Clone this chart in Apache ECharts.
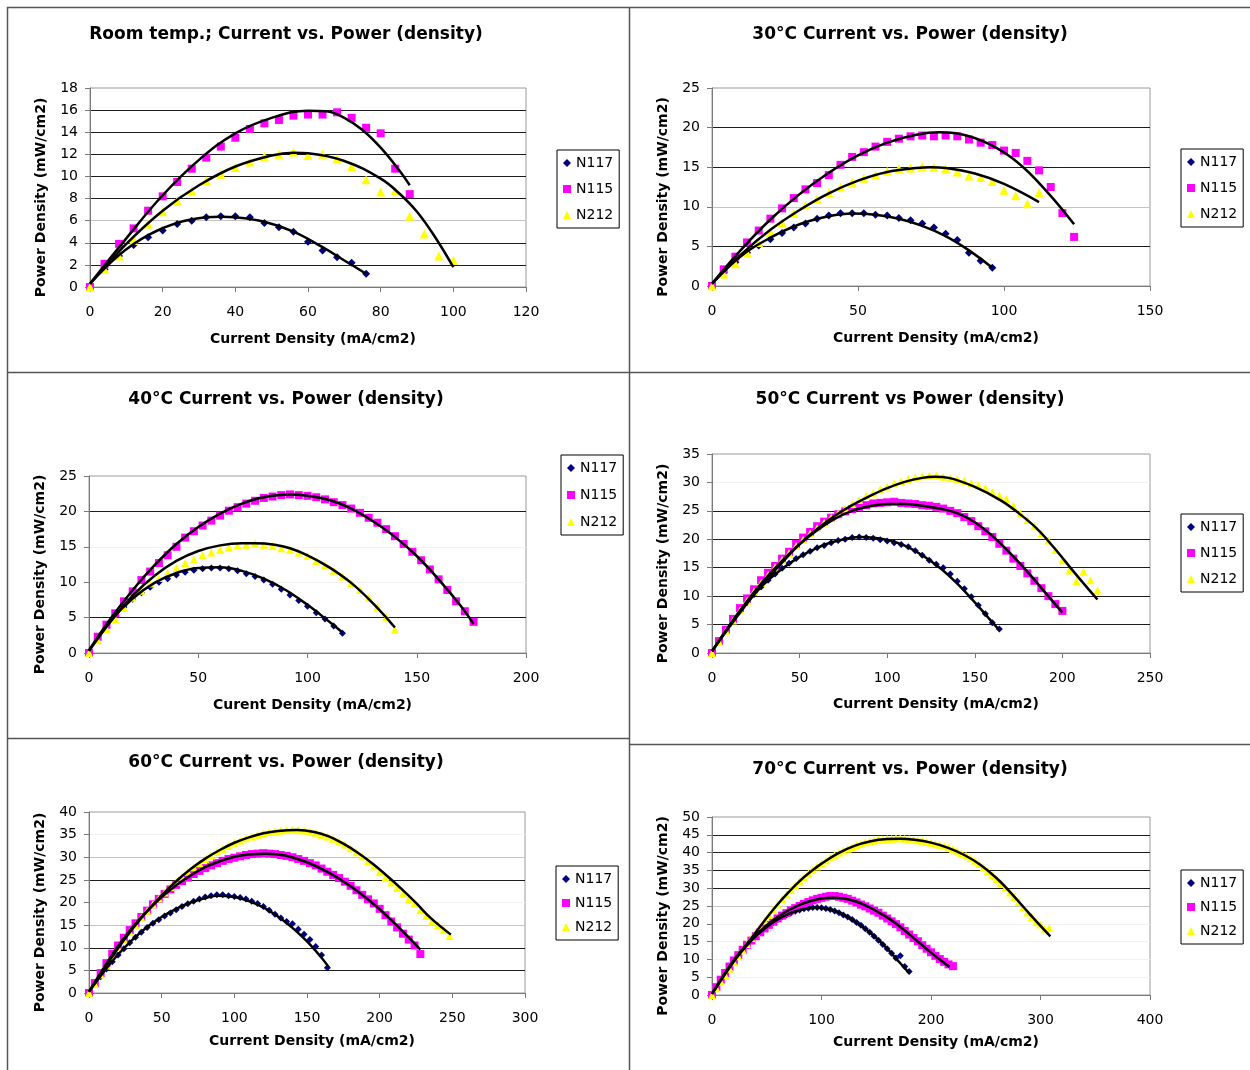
<!DOCTYPE html>
<html><head><meta charset="utf-8">
<script src="https://cdn.jsdelivr.net/npm/echarts@6.0.0/dist/echarts.min.js"></script>
<style>html,body{margin:0;padding:0;background:#fff}#c{width:1250px;height:1070px}</style>
</head><body><div id="c"></div><script>
// ---------- DATA ----------
const seriesNames = ['N117', 'N115', 'N212'];
const panelTitles = ['Room temp.; Current vs. Power (density)', '30°C Current vs. Power (density)', '40°C Current vs. Power (density)', '50°C Current vs Power (density)', '60°C Current vs. Power (density)', '70°C Current vs. Power (density)'];
const xAxisNames = ['Current Density (mA/cm2)', 'Current Density (mA/cm2)', 'Curent Density (mA/cm2)', 'Current Density (mA/cm2)', 'Current Density (mA/cm2)', 'Current Density (mA/cm2)'];
const yAxisName = 'Power Density (mW/cm2)';
const xMaxes = [120, 150, 200, 250, 300, 400];
const xSteps = [20, 50, 50, 50, 50, 100];
const yMaxes = [18, 25, 25, 35, 40, 50];
const ySteps = [2, 5, 5, 5, 5, 5];

// Room temperature
const rt_x117 = [0,4,8,12,16,20,24,28,32,36,40,44,48,52,56,60,64,68,72,76];
const rt_y117 = [0,1.6,2.8,3.8,4.5,5.1,5.7,6.0,6.3,6.4,6.4,6.3,5.8,5.4,5.0,4.1,3.3,2.7,2.2,1.2];
const rt_x115 = [0,4,8,12,16,20,24,28,32,36,40,44,48,52,56,60,64,68,72,76,80,84,88];
const rt_y115 = [0,2.1,3.9,5.3,6.9,8.2,9.5,10.7,11.7,12.7,13.5,14.3,14.8,15.1,15.5,15.6,15.6,15.8,15.3,14.4,13.9,10.7,8.4];
const rt_x212 = [0,4,8,12,16,20,24,28,32,36,40,44,48,52,56,60,64,68,72,76,80,84,88,92,96,100];
const rt_y212 = [0,1.6,2.8,4.2,5.7,6.8,7.8,8.7,9.6,10.2,10.8,11.3,11.8,12.0,12.2,11.9,12.0,11.6,10.9,9.7,8.6,8.7,6.4,4.8,2.8,2.4];
const rt_tx117 = [0,8,16,24,32,36,40,48,56,64,70,76];
const rt_ty117 = [0.3,2.9,4.7,5.8,6.3,6.35,6.3,5.9,5.0,3.6,2.4,1.2];
const rt_tx115 = [0,10,20,30,40,50,60,65,70,75,80,85,88];
const rt_ty115 = [0.3,4.4,8.3,11.5,13.9,15.3,15.95,15.9,15.3,14.2,12.6,10.6,9.2];
const rt_tx212 = [0,10,20,30,40,50,56,60,70,80,85,90,95,100];
const rt_ty212 = [0.3,3.9,6.9,9.2,10.9,11.9,12.15,12.1,11.4,9.8,8.5,6.8,4.5,1.8];

// 30 C
const t30_x117 = [0,4,8,12,16,20,24,28,32,36,40,44,48,52,56,60,64,68,72,76,80,84,88,92,96];
const t30_y117 = [0,1.7,3.0,4.2,5.1,5.9,6.7,7.4,7.9,8.5,8.9,9.2,9.2,9.2,9.0,8.9,8.6,8.3,7.9,7.4,6.6,5.8,4.2,3.2,2.3];
const t30_x115 = [0,4,8,12,16,20,24,28,32,36,40,44,48,52,56,60,64,68,72,76,80,84,88,92,96,100,104,108,112,116,120,124];
const t30_y115 = [0,2.1,3.7,5.5,7.0,8.5,9.8,11.1,12.2,13.0,14.0,15.3,16.3,16.9,17.6,18.2,18.6,18.9,19.0,18.9,19.0,18.9,18.5,18.1,17.8,17.1,16.8,15.8,14.6,12.5,9.2,6.2];
const t30_x212 = [0,4,8,12,16,20,24,28,32,36,40,44,48,52,56,60,64,68,72,76,80,84,88,92,96,100,104,108,112];
const t30_y212 = [0,1.5,2.8,4.2,5.5,6.8,8.0,9.2,10.2,11.0,11.8,12.5,13.1,13.6,14.0,14.5,14.8,14.9,15.1,15.0,14.8,14.4,13.9,13.7,13.2,12.1,11.4,10.4,11.8];
const t30_tx117 = [0,10,20,30,40,48,56,64,72,80,88,96];
const t30_ty117 = [0.3,3.8,6.1,7.8,8.8,9.15,9.0,8.5,7.6,6.3,4.5,2.3];
const t30_tx115 = [0,10,20,30,40,50,60,70,78,85,95,105,115,124];
const t30_ty115 = [0.3,4.6,8.4,11.6,14.3,16.5,18.1,19.1,19.4,19.2,17.9,15.5,11.8,7.8];
const t30_tx212 = [0,10,20,30,40,50,60,70,75,80,90,100,112];
const t30_ty212 = [0.3,4.0,7.1,9.6,11.7,13.3,14.4,14.9,15.0,14.9,14.2,12.9,10.6];

// 40 C
const t40_x117 = [0,4,8,12,16,20,24,28,32,36,40,44,48,52,56,60,64,68,72,76,80,84,88,92,96,100,104,108,112,116];
const t40_y117 = [0,2.0,3.7,5.2,6.5,7.6,8.5,9.3,10.0,10.5,11.0,11.4,11.7,11.9,12.0,12.0,11.9,11.6,11.2,10.8,10.3,9.7,9.0,8.2,7.4,6.6,5.7,4.8,3.8,2.8];
const t40_x115 = [0,4,8,12,16,20,24,28,32,36,40,44,48,52,56,60,64,68,72,76,80,84,88,92,96,100,104,108,112,116,120,124,128,132,136,140,144,148,152,156,160,164,168,172,176];
const t40_y115 = [0,2.3,4.0,5.6,7.3,8.7,10.3,11.5,12.7,13.8,15.0,16.3,17.2,18.0,18.7,19.4,20.1,20.6,21.1,21.5,21.9,22.1,22.3,22.4,22.3,22.2,22.0,21.7,21.3,20.9,20.4,19.8,19.1,18.4,17.5,16.5,15.4,14.3,13.1,11.8,10.4,8.9,7.3,5.9,4.4];
const t40_x212 = [0,4,8,12,16,20,24,28,32,36,40,44,48,52,56,60,64,68,72,76,80,84,88,92,96,100,104,108,112,116,120,124,128,132,136,140];
const t40_y212 = [0,1.8,3.4,4.8,6.4,7.8,8.8,9.8,10.6,11.3,12.0,12.7,13.2,13.8,14.2,14.6,14.9,15.2,15.3,15.5,15.3,15.1,14.8,14.6,14.2,13.7,13.0,12.4,11.6,10.8,9.9,8.9,7.8,6.5,5.1,3.3];
const t40_tx117 = [0,10,20,30,40,50,60,70,80,90,100,110,116];
const t40_ty117 = [0.3,4.6,7.7,9.9,11.3,12.0,12.1,11.6,10.5,8.9,6.8,4.4,2.9];
const t40_tx115 = [0,10,20,30,40,50,60,70,80,92,100,110,120,130,140,150,160,170,176];
const t40_ty115 = [0.4,4.9,8.9,12.4,15.4,17.8,19.7,21.1,22.0,22.4,22.2,21.6,20.4,18.6,16.4,13.7,10.4,6.7,4.1];
const t40_tx212 = [0,10,20,30,40,50,60,70,76,85,92,100,110,120,130,140];
const t40_ty212 = [0.3,4.5,8.1,10.9,13.0,14.4,15.2,15.5,15.5,15.3,14.8,13.8,12.1,9.9,7.0,3.6];

// 50 C
const t50_x117 = [0,4,8,12,16,20,24,28,32,36,40,44,48,52,56,60,64,68,72,76,80,84,88,92,96,100,104,108,112,116,120,124,128,132,136,140,144,148,152,156,160,164];
const t50_y117 = [0,2.0,3.9,5.7,7.4,8.9,10.3,11.6,12.8,13.9,14.9,15.8,16.6,17.3,17.9,18.5,18.9,19.4,19.8,20.0,20.3,20.4,20.3,20.2,19.9,19.7,19.4,19.1,18.7,18.0,17.2,16.3,15.6,15.0,13.9,12.6,11.3,9.9,8.4,6.9,5.3,4.2];
const t50_x115 = [0,4,8,12,16,20,24,28,32,36,40,44,48,52,56,60,64,68,72,76,80,84,88,92,96,100,104,108,112,116,120,124,128,132,136,140,144,148,152,156,160,164,168,172,176,180,184,188,192,196,200];
const t50_y115 = [0,2.1,4.1,6.0,7.9,9.6,11.2,12.8,14.1,15.3,16.6,17.8,19.2,20.3,21.3,22.3,23.1,23.8,24.4,24.9,25.3,25.7,26.0,26.3,26.4,26.5,26.6,26.4,26.3,26.2,26.0,25.9,25.7,25.4,25.0,24.6,23.9,23.2,22.3,21.4,20.4,19.2,18.0,16.6,15.3,14.0,12.7,11.4,10.0,8.6,7.4];
const t50_x212 = [0,4,8,12,16,20,24,28,32,36,40,44,48,52,56,60,64,68,72,76,80,84,88,92,96,100,104,108,112,116,120,124,128,132,136,140,144,148,152,156,160,164,168,172,176,180,184,188,192,196,200,204,208,212,216,220];
const t50_y212 = [0,2.0,3.9,5.7,7.5,9.2,10.8,12.3,13.7,15.1,16.4,17.6,18.8,19.9,21.0,22.0,22.9,23.8,24.6,25.4,26.2,26.9,27.6,28.2,28.8,29.3,29.8,30.2,30.6,30.9,31.1,31.2,31.2,31.0,30.8,30.6,30.3,29.9,29.5,29.0,28.3,27.7,27.1,25.9,24.6,23.4,22.3,21.0,19.8,18.1,16.3,14.5,12.6,14.3,12.8,11.0];
const t50_tx117 = [0,10,20,30,40,50,60,70,85,100,110,120,130,140,150,158,164];
const t50_ty117 = [0.3,4.8,8.9,12.2,14.8,16.9,18.5,19.6,20.4,19.9,18.9,17.2,15.0,12.2,8.9,6.1,4.0];
const t50_tx115 = [0,10,20,30,40,50,60,70,80,90,100,110,120,130,140,150,160,170,180,190,200];
const t50_ty115 = [0.3,4.6,8.7,12.5,15.9,19.1,21.6,23.6,25.0,25.8,26.2,26.2,25.9,25.4,24.6,23.0,20.6,17.6,14.3,10.7,7.1];
const t50_tx212 = [0,10,20,30,40,50,60,70,80,90,100,110,120,127,135,150,165,175,185,195,207,220];
const t50_ty212 = [0.3,4.9,9.1,12.9,16.2,19.2,21.8,24.1,26.0,27.6,29.0,30.1,30.8,31.0,30.8,29.2,26.8,24.6,22.0,18.6,14.1,9.4];

// 60 C
const t60_x117 = [0,4,8,12,16,20,24,28,32,36,40,44,48,52,56,60,64,68,72,76,80,84,88,92,96,100,104,108,112,116,120,124,128,132,136,140,144,148,152,156,160,164];
const t60_y117 = [0,1.8,3.6,5.3,6.9,8.4,9.8,11.1,12.3,13.4,14.5,15.4,16.2,17.0,17.7,18.4,19.1,19.7,20.3,20.8,21.2,21.5,21.7,21.7,21.5,21.3,21.1,20.8,20.3,19.8,19.1,18.3,17.4,16.6,15.8,15.3,14.1,13.0,11.8,10.3,8.4,5.6];
const t60_x115 = [0,4,8,12,16,20,24,28,32,36,40,44,48,52,56,60,64,68,72,76,80,84,88,92,96,100,104,108,112,116,120,124,128,132,136,140,144,148,152,156,160,164,168,172,176,180,184,188,192,196,200,204,208,212,216,220,224,228];
const t60_y115 = [0,2.2,4.4,6.6,8.7,10.5,12.2,13.9,15.4,16.8,18.2,19.6,20.8,21.9,22.9,23.9,24.7,25.5,26.3,27.0,27.6,28.2,28.7,29.2,29.6,29.9,30.2,30.5,30.7,30.8,30.9,30.8,30.7,30.5,30.3,30.0,29.6,29.2,28.7,28.2,27.5,26.8,26.1,25.4,24.6,23.7,22.7,21.7,20.7,19.8,18.6,17.2,15.8,14.5,13.1,11.8,10.5,8.6];
const t60_x212 = [0,4,8,12,16,20,24,28,32,36,40,44,48,52,56,60,64,68,72,76,80,84,88,92,96,100,104,108,112,116,120,124,128,132,136,140,144,148,152,156,160,164,168,172,176,180,184,188,192,196,200,204,208,212,216,220,224,228,232,236,240,244,248];
const t60_y212 = [0,2.0,4.1,6.1,8.1,10.0,11.8,13.5,15.1,16.7,18.2,19.6,20.9,22.2,23.4,24.6,25.7,26.8,27.8,28.7,29.6,30.4,31.2,31.9,32.5,33.2,33.7,34.2,34.6,35.0,35.3,35.6,35.8,35.9,36.0,36.1,36.0,35.9,35.7,35.4,35.0,34.6,34.1,33.5,32.8,32.0,31.1,30.2,29.1,28.0,26.8,25.6,24.4,23.2,22.0,20.8,19.8,18.3,17.0,15.8,15.0,14.0,12.6];
const t60_tx117 = [0,10,20,30,40,50,60,70,80,88,100,110,120,130,140,150,160,165];
const t60_ty117 = [0.3,4.6,8.5,11.8,14.6,16.8,18.6,20.0,21.0,21.5,21.2,20.3,18.9,16.9,14.4,11.4,7.8,5.7];
const t60_tx115 = [0,10,20,30,40,50,60,70,80,90,100,110,122,135,150,165,180,195,210,220,228];
const t60_ty115 = [0.3,5.5,10.4,14.6,18.1,21.2,23.8,26.0,27.8,29.1,30.1,30.6,30.8,30.4,28.9,26.6,23.6,19.9,15.5,12.3,9.6];
const t60_tx212 = [0,10,20,30,40,50,60,70,80,90,100,110,120,130,143,155,165,175,185,195,205,215,225,235,249];
const t60_ty212 = [0.3,5.2,9.9,14.2,18.1,21.6,24.7,27.4,29.7,31.6,33.2,34.4,35.3,35.8,36.0,35.6,34.6,33.0,31.0,28.6,25.9,23.0,19.9,16.6,12.9];

// 70 C
const t70_x117 = [0,4,8,12,16,20,24,28,32,36,40,44,48,52,56,60,64,68,72,76,80,84,88,92,96,100,104,108,112,116,120,124,128,132,136,140,144,148,152,156,160,164,168,172,176,180];
const t70_y117 = [0,2.1,4.2,6.1,7.9,9.6,11.2,12.7,14.1,15.4,16.6,17.7,18.7,19.6,20.4,21.2,21.9,22.5,23.0,23.5,23.9,24.2,24.4,24.6,24.6,24.5,24.3,24.0,23.6,23.1,22.5,21.9,21.2,20.4,19.6,18.6,17.6,16.5,15.4,14.2,13.0,11.7,10.4,11.0,8.0,6.6];
const t70_x115 = [0,4,8,12,16,20,24,28,32,36,40,44,48,52,56,60,64,68,72,76,80,84,88,92,96,100,104,108,112,116,120,124,128,132,136,140,144,148,152,156,160,164,168,172,176,180,184,188,192,196,200,204,208,212,216,220];
const t70_y115 = [0,2.2,4.3,6.2,8.0,9.7,11.2,12.7,14.1,15.3,16.5,17.6,18.7,19.7,20.6,21.5,22.3,23.0,23.8,24.4,25.0,25.6,26.1,26.6,27.0,27.3,27.6,27.8,27.8,27.6,27.3,27.0,26.5,26.0,25.4,24.9,24.3,23.7,23.1,22.3,21.5,20.7,19.9,19.0,18.0,17.0,16.0,15.1,14.0,13.0,12.0,11.0,10.1,9.3,8.6,8.1];
const t70_x212 = [0,4,8,12,16,20,24,28,32,36,40,44,48,52,56,60,64,68,72,76,80,84,88,92,96,100,104,108,112,116,120,124,128,132,136,140,144,148,152,156,160,164,168,172,176,180,184,188,192,196,200,204,208,212,216,220,224,228,232,236,240,244,248,252,256,260,264,268,272,276,280,284,288,292,296,300,304,308];
const t70_y212 = [0,1.9,3.8,5.6,7.4,9.2,10.9,12.6,14.3,16.0,17.6,19.3,20.9,22.5,24.0,25.5,26.9,28.2,29.5,30.8,32.0,33.1,34.2,35.2,36.1,37.0,37.8,38.6,39.3,40.0,40.6,41.1,41.6,42.1,42.5,42.9,43.2,43.4,43.6,43.7,43.8,43.9,44.0,44.0,43.9,43.8,43.7,43.5,43.3,43.0,42.8,42.5,42.2,41.9,41.5,41.0,40.5,39.9,39.2,38.5,37.7,36.8,35.8,34.8,33.7,32.6,31.4,30.1,28.8,27.5,26.1,24.6,23.2,21.9,20.6,19.8,18.6,18.9];
const t70_tx117 = [0,10,20,30,40,50,60,70,80,95,110,120,130,140,150,160,170,180];
const t70_ty117 = [0.3,5.1,9.5,13.3,16.5,19.1,21.2,22.8,23.9,24.6,23.9,22.6,20.8,18.6,16.0,13.0,9.6,6.2];
const t70_tx115 = [0,10,20,30,40,50,60,70,80,90,100,110,120,130,140,150,160,170,180,190,200,210,217];
const t70_ty115 = [0.3,5.3,9.8,13.6,16.8,19.6,21.9,23.8,25.3,26.4,27.1,27.3,27.1,26.4,25.2,23.6,21.8,19.6,17.1,14.5,11.9,9.5,7.9];
const t70_tx212 = [0,10,20,30,40,50,60,70,80,90,100,115,130,145,160,172,185,200,215,230,245,260,275,290,300,309];
const t70_ty212 = [0.3,5.0,9.5,13.6,17.6,21.7,25.5,28.9,32.0,34.6,36.9,39.8,41.9,43.2,43.8,43.9,43.6,42.8,41.4,39.4,36.6,32.8,28.0,22.8,19.4,16.5];

// ---------- grouping (references only) ----------
const panelPoints = [
  [[rt_x117, rt_y117], [rt_x115, rt_y115], [rt_x212, rt_y212]],
  [[t30_x117, t30_y117], [t30_x115, t30_y115], [t30_x212, t30_y212]],
  [[t40_x117, t40_y117], [t40_x115, t40_y115], [t40_x212, t40_y212]],
  [[t50_x117, t50_y117], [t50_x115, t50_y115], [t50_x212, t50_y212]],
  [[t60_x117, t60_y117], [t60_x115, t60_y115], [t60_x212, t60_y212]],
  [[t70_x117, t70_y117], [t70_x115, t70_y115], [t70_x212, t70_y212]]
];
const panelTrends = [
  [[rt_tx117, rt_ty117], [rt_tx115, rt_ty115], [rt_tx212, rt_ty212]],
  [[t30_tx117, t30_ty117], [t30_tx115, t30_ty115], [t30_tx212, t30_ty212]],
  [[t40_tx117, t40_ty117], [t40_tx115, t40_ty115], [t40_tx212, t40_ty212]],
  [[t50_tx117, t50_ty117], [t50_tx115, t50_ty115], [t50_tx212, t50_ty212]],
  [[t60_tx117, t60_ty117], [t60_tx115, t60_ty115], [t60_tx212, t60_ty212]],
  [[t70_tx117, t70_ty117], [t70_tx115, t70_ty115], [t70_tx212, t70_ty212]]
];

// ---------- LAYOUT & STYLE ----------
const FONT = 'DejaVu Sans';
const grids = [
  {left: 90, top: 88, width: 436, height: 199},
  {left: 712, top: 88, width: 438, height: 198},
  {left: 89, top: 476, width: 437, height: 177},
  {left: 712, top: 454, width: 438, height: 199},
  {left: 89, top: 812, width: 436, height: 181},
  {left: 712, top: 817, width: 438, height: 178}
];
const legendPos = [
  {left: 557, top: 150, gap: 10},
  {left: 1181, top: 149, gap: 10},
  {left: 561, top: 455, gap: 11},
  {left: 1181, top: 514, gap: 10},
  {left: 556, top: 866, gap: 8},
  {left: 1181, top: 870, gap: 8}
];
const titlePos = [[286, 35], [910, 35], [286, 400], [910, 400], [286, 763], [910, 770]];
const xNameGap = [45, 45, 45, 44, 41, 40];
const A = '#808080', D = '#1c1c1c', L = '#c4c4c4', N = '#f2f2f2';
const gridLineColors = [
  [A, D, D, L, D, D, D, D, D, A],
  [A, D, L, D, D, A],
  [A, D, N, N, D, A],
  [A, D, D, D, D, D, N, A],
  [A, D, D, L, N, D, L, N, A],
  [A, N, N, N, N, L, D, D, D, D, A]
];
const symbols = ['diamond', 'rect', 'triangle'];
const colors = ['#000080', '#ff00ff', '#ffff00'];
const symSizesBig = [8, 8, 9];
const symSizesSmall = [7, 8, 8];

const chart = echarts.init(document.getElementById('c'), null, {renderer: 'canvas'});

const option = {
  animation: false,
  backgroundColor: '#ffffff',
  textStyle: {fontFamily: FONT},
  grid: [], xAxis: [], yAxis: [], legend: [], series: [], graphic: []
};

for (let p = 0; p < 6; p++) {
  option.grid.push(Object.assign({show: true, borderColor: '#9a9a9a', borderWidth: 1, backgroundColor: '#fff', containLabel: false}, grids[p]));
  option.xAxis.push({
    type: 'value', gridIndex: p, min: 0, max: xMaxes[p], interval: xSteps[p],
    name: xAxisNames[p], nameLocation: 'middle', nameGap: xNameGap[p],
    nameTextStyle: {fontFamily: FONT, fontWeight: 'bold', fontSize: 14, color: '#000', padding: [0, 0, 0, 10]},
    axisLine: {show: true, onZero: false, lineStyle: {color: '#7a7a7a', width: 1}},
    axisTick: {show: true, inside: false, length: 5, lineStyle: {color: '#7a7a7a'}},
    axisLabel: {fontFamily: FONT, fontSize: 14, color: '#000', margin: 18},
    splitLine: {show: false}
  });
  option.yAxis.push({
    type: 'value', gridIndex: p, min: 0, max: yMaxes[p], interval: ySteps[p],
    name: yAxisName, nameLocation: 'middle', nameGap: 42, nameRotate: 90,
    nameTextStyle: {fontFamily: FONT, fontWeight: 'bold', fontSize: 14, color: '#000', padding: [0, 20, 0, 0]},
    axisLine: {show: true, onZero: false, lineStyle: {color: '#7a7a7a', width: 1}},
    axisTick: {show: true, inside: false, length: 5, lineStyle: {color: '#7a7a7a'}},
    axisLabel: {fontFamily: FONT, fontSize: 14, color: '#000', margin: 12},
    splitLine: {show: true, showMinLine: true, showMaxLine: false, lineStyle: {color: gridLineColors[p], width: 1}}
  });
  option.legend.push({
    data: seriesNames, orient: 'vertical', left: legendPos[p].left, top: legendPos[p].top,
    padding: [5, 6, 5, 6], itemGap: legendPos[p].gap, itemWidth: 8, itemHeight: 8,
    borderColor: '#000', borderWidth: 1, backgroundColor: '#fff', selectedMode: false,
    textStyle: {fontFamily: FONT, fontSize: 14, color: '#000', lineHeight: 16}
  });
  const sizes = p < 2 ? symSizesBig : symSizesSmall;
  for (let s = 0; s < 3; s++) {
    const pts = panelPoints[p][s];
    option.series.push({
      type: 'scatter', name: seriesNames[s], xAxisIndex: p, yAxisIndex: p,
      symbol: symbols[s], symbolSize: sizes[s], itemStyle: {color: colors[s], opacity: 1},
      data: pts[0].map((v, j) => [v, pts[1][j]]), z: 2
    });
  }
  for (let s = 0; s < 3; s++) {
    const tr = panelTrends[p][s];
    option.series.push({
      type: 'line', name: seriesNames[s] + ' trend', xAxisIndex: p, yAxisIndex: p,
      smooth: 0.4, showSymbol: false, silent: true,
      lineStyle: {color: '#000', width: 2.5}, itemStyle: {color: '#000'},
      data: tr[0].map((v, j) => [v, tr[1][j]]), z: 4
    });
  }
  option.graphic.push({
    type: 'text', x: titlePos[p][0], y: titlePos[p][1], silent: true,
    style: {text: panelTitles[p], fontFamily: FONT, fontWeight: 'bold', fontSize: 17, fill: '#000', align: 'center', verticalAlign: 'middle'}
  });
}

// panel borders
const borderSegs = [
  [7, 7.5, 1250, 7.5], [7.5, 7, 7.5, 1070], [629.5, 7, 629.5, 1070],
  [7, 372.5, 629, 372.5], [630, 372.5, 1250, 372.5],
  [7, 738.5, 629, 738.5], [630, 744.5, 1250, 744.5]
];
borderSegs.forEach(b => option.graphic.push({
  type: 'line', silent: true, shape: {x1: b[0], y1: b[1], x2: b[2], y2: b[3]},
  style: {stroke: '#555', lineWidth: 1.5}
}));

chart.setOption(option);
</script></body></html>
